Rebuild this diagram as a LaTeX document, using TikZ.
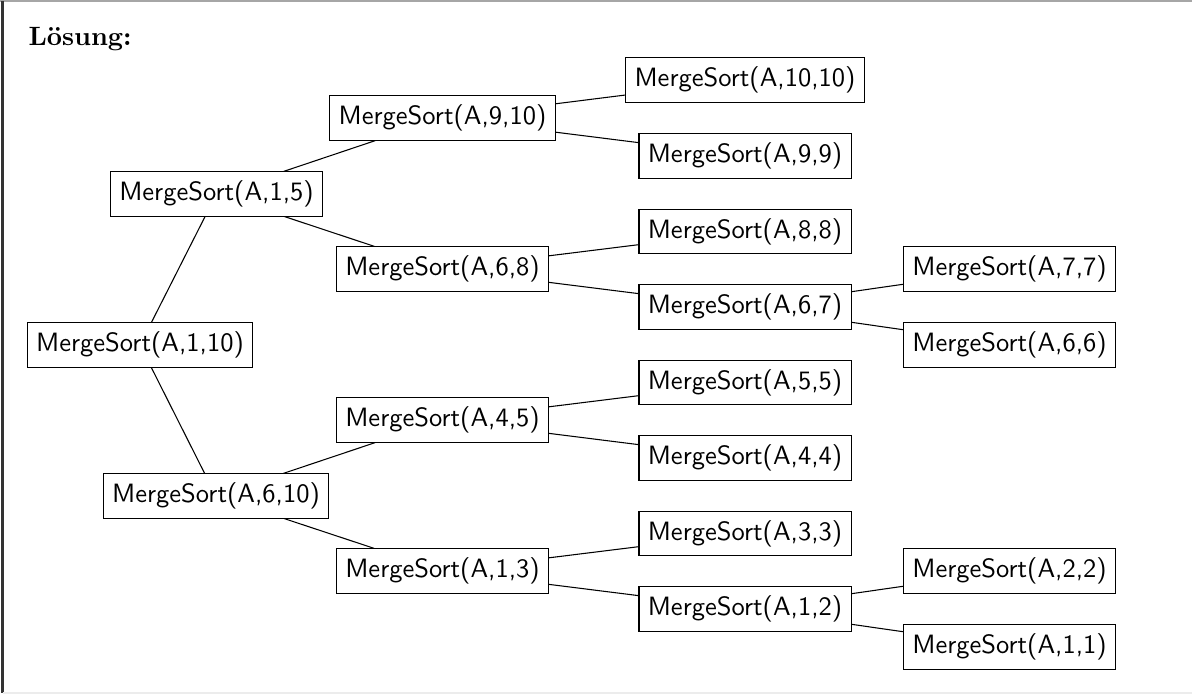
\documentclass[tikz,border=0pt]{standalone}
\begin{document}
\begin{tikzpicture}[x=0.3774pt,y=-0.3774pt,
  ms/.style={draw, rectangle, font=\sffamily, inner sep=3.33pt, line width=0.4pt},
  edge/.style={line width=0.4pt}]
\useasboundingbox (0,0) rectangle (1192,694);
% frame
\draw[gray!70, line width=0.8pt] (0,1) -- (1192,1);
\draw[black!80, line width=0.8pt] (2.5,1) -- (2.5,693);
\draw[gray!15, line width=0.8pt] (2.5,693) -- (1192,693);
\node[anchor=base west, inner sep=0] (title) at (28,46) {\textbf{Lösung:}};
% level 0
\node[ms] (r) at (140,345) {MergeSort(A,1,10)};
% level 1
\node[ms] (a) at (216.5,194) {MergeSort(A,1,5)};
\node[ms] (b) at (216,496) {MergeSort(A,6,10)};
% level 2
\node[ms] (aa) at (442.5,118) {MergeSort(A,9,10)};
\node[ms] (ab) at (442.5,269) {MergeSort(A,6,8)};
\node[ms] (ba) at (442.5,420) {MergeSort(A,4,5)};
\node[ms] (bb) at (442.5,571) {MergeSort(A,1,3)};
% level 3
\node[ms] (aaa) at (745,80) {MergeSort(A,10,10)};
\node[ms] (aab) at (745,156) {MergeSort(A,9,9)};
\node[ms] (aba) at (745,231.5) {MergeSort(A,8,8)};
\node[ms] (abb) at (745,307) {MergeSort(A,6,7)};
\node[ms] (baa) at (745,382.5) {MergeSort(A,5,5)};
\node[ms] (bab) at (745,458) {MergeSort(A,4,4)};
\node[ms] (bba) at (745,533.5) {MergeSort(A,3,3)};
\node[ms] (bbb) at (745,609) {MergeSort(A,1,2)};
% level 4
\node[ms] (abba) at (1009.5,269) {MergeSort(A,7,7)};
\node[ms] (abbb) at (1009.5,345) {MergeSort(A,6,6)};
\node[ms] (bbba) at (1009.5,571) {MergeSort(A,2,2)};
\node[ms] (bbbb) at (1009.5,647) {MergeSort(A,1,1)};
% edges
\draw[edge] (r) -- (a);
\draw[edge] (r) -- (b);
\draw[edge] (a) -- (aa);
\draw[edge] (a) -- (ab);
\draw[edge] (b) -- (ba);
\draw[edge] (b) -- (bb);
\draw[edge] (aa) -- (aaa);
\draw[edge] (aa) -- (aab);
\draw[edge] (ab) -- (aba);
\draw[edge] (ab) -- (abb);
\draw[edge] (ba) -- (baa);
\draw[edge] (ba) -- (bab);
\draw[edge] (bb) -- (bba);
\draw[edge] (bb) -- (bbb);
\draw[edge] (abb) -- (abba);
\draw[edge] (abb) -- (abbb);
\draw[edge] (bbb) -- (bbba);
\draw[edge] (bbb) -- (bbbb);
\end{tikzpicture}
\end{document}
